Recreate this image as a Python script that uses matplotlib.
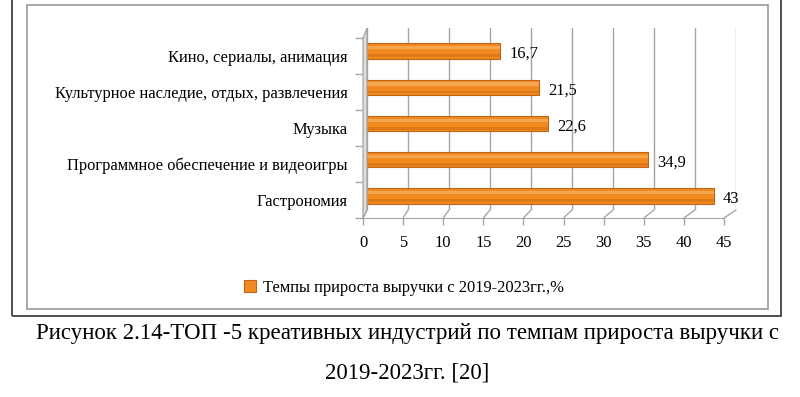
import matplotlib.pyplot as plt
from matplotlib.patches import Rectangle, Polygon, ConnectionPatch

plt.rcParams['font.family'] = ['Liberation Serif', 'DejaVu Serif']

# данные
categories = ["Гастрономия", "Программное обеспечение и видеоигры", "Музыка",
              "Культурное наследие, отдых, развлечения", "Кино, сериалы, анимация"]
values = [43, 34.9, 22.6, 21.5, 16.7]
xticks = [0, 5, 10, 15, 20, 25, 30, 35, 40, 45]
legend_label = "Темпы прироста выручки с 2019-2023гг.,%"
caption1 = "Рисунок 2.14-ТОП -5 креативных индустрий по темпам прироста выручки с"
caption2 = "2019-2023гг. [20]"

W, H = 800, 397
orange = "#F18A1F"
grid_col = "#A6A6A6"


def box(left, top, right, bottom):
    # пиксели -> доли фигуры
    return [left / W, 1 - bottom / H, (right - left) / W, (bottom - top) / H]


fig = plt.figure(figsize=(8, 3.97), dpi=100)

# рамки
fig.patches.append(Rectangle((12 / W, 1 - 316 / H), 769 / W, 320 / H, transform=fig.transFigure,
                             fill=False, edgecolor="#404040", linewidth=1.3))
fig.patches.append(Rectangle((27 / W, 1 - 309 / H), 741 / W, 304 / H, transform=fig.transFigure,
                             fill=False, edgecolor="#A0A0A0", linewidth=1.3))

ypos = list(range(len(categories)))

# задняя стенка с сеткой
ax_back = fig.add_axes(box(367, 28, 736, 210))
ax_back.set_xlim(0, 45)
ax_back.set_ylim(-0.5, 4.5)
ax_back.set_xticks(xticks)
ax_back.set_yticks([])
ax_back.tick_params(length=0, labelbottom=False)
ax_back.grid(axis='x', color=grid_col, linewidth=1)
for s in ax_back.spines.values():
    s.set_visible(False)
ax_back.patch.set_alpha(0)

# передняя ось
ax_front = fig.add_axes(box(363, 38, 724, 218))
ax_front.set_xlim(0, 45)
ax_front.set_ylim(-0.5, 4.5)
ax_front.set_xticks(xticks)
ax_front.set_yticks(ypos)
ax_front.set_yticklabels(categories)
ax_front.set_yticks([i - 0.5 for i in range(len(categories) + 1)], minor=True)
ax_front.tick_params(axis='y', which='major', length=0, pad=11, labelsize=11.9)
ax_front.tick_params(axis='y', which='minor', length=6, color=grid_col, width=1)
ax_front.tick_params(axis='x', length=5, color=grid_col, width=1, pad=7, labelsize=11.9)
for name in ["top", "right"]:
    ax_front.spines[name].set_visible(False)
for name in ["left", "bottom"]:
    ax_front.spines[name].set_color(grid_col)
ax_front.patch.set_alpha(0)

# диагонали пола
for t in xticks:
    fig.add_artist(ConnectionPatch((t, 0), (t, 0),
                                   coordsA=ax_front.get_xaxis_transform(),
                                   coordsB=ax_back.get_xaxis_transform(),
                                   color=grid_col, linewidth=1))

# левая стенка
corners = [ax_front.transAxes.transform((0, 0)), ax_front.transAxes.transform((0, 1)),
           ax_back.transAxes.transform((0, 1)), ax_back.transAxes.transform((0, 0))]
corners = [fig.transFigure.inverted().transform(c) for c in corners]
fig.patches.append(Polygon(corners, closed=True, transform=fig.transFigure,
                           facecolor="#DCDCDC", edgecolor="#A0A0A0", linewidth=0.8))

# полосы
ax = fig.add_axes(box(365, 33, 730, 214))
ax.set_xlim(0, 45)
ax.set_ylim(-0.5, 4.5)
ax.axis('off')
bars = ax.barh(ypos, values, height=0.42, color=orange, edgecolor="#C0641A", linewidth=0.8)
ax.barh([y + 0.09 for y in ypos], values, height=0.09, color="#F7A650", linewidth=0)
ax.barh([y - 0.13 for y in ypos], values, height=0.08, color="#E07A18", linewidth=0)
for y, v in zip(ypos, values):
    ax.text(v + 1.1, y - 0.08, f"{v:g}".replace('.', ','), ha='left', va='center', fontsize=11.9)

fig.legend(handles=[bars], labels=[legend_label], loc='center',
           bbox_to_anchor=(404 / W, 1 - 288 / H), frameon=False, fontsize=11.9,
           handlelength=0.7, handleheight=0.7, handletextpad=0.4)

fig.text(407 / W, 1 - 334 / H, caption1, ha='center', va='center', fontsize=16.5)
fig.text(407 / W, 1 - 373 / H, caption2, ha='center', va='center', fontsize=16.5)

fig.savefig("out.png", dpi=100)
